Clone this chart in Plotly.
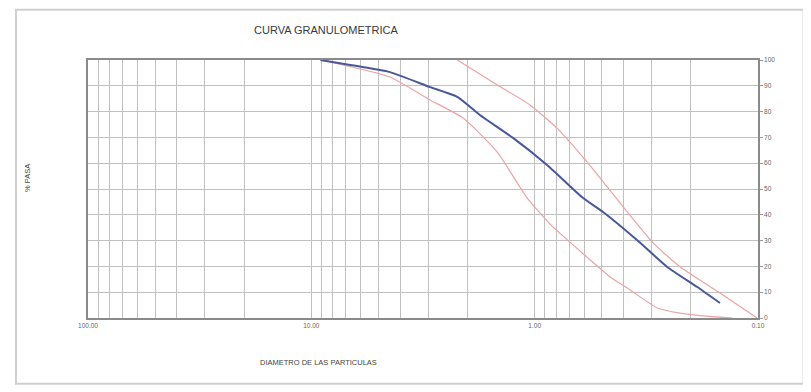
import plotly.graph_objects as go

# ---- data ----
muestra_d = [9.1, 6.7, 4.45, 2.94, 2.22, 1.76, 1.25, 0.88, 0.607, 0.494, 0.348, 0.255, 0.187, 0.148]
muestra_p = [100, 98.1, 95.3, 89.5, 85.7, 78.7, 69.8, 59.3, 46.5, 41.1, 30.2, 19.8, 12.0, 5.8]

lim_sup_d = [2.22, 1.47, 1.05, 0.794, 0.583, 0.415, 0.295, 0.223, 0.148, 0.101]
lim_sup_p = [100, 90.3, 82.6, 73.6, 60.5, 44.6, 29.1, 19.8, 9.7, 0]

lim_inf_d = [9.1, 4.45, 2.94, 2.09, 1.47, 1.08, 0.828, 0.583, 0.459, 0.374, 0.283, 0.223, 0.165, 0.13]
lim_inf_p = [100, 93.4, 84.5, 77.5, 64.3, 46.5, 35.3, 23.6, 15.9, 10.9, 3.9, 1.9, 0.6, 0]

x_tick_labels = {100: "100.00", 10: "10.00", 1: "1.00", 0.1: "0.10"}
y_ticks = [0, 10, 20, 30, 40, 50, 60, 70, 80, 90, 100]

title_text = "CURVA GRANULOMETRICA"
x_title = "DIAMETRO DE LAS PARTICULAS"
y_title = "% PASA"

# gridline positions: every digit in each decade
xv = []
for dec in [0.1, 1, 10]:
    for k in range(1, 10):
        xv.append(round(dec * k, 4))
xv.append(100)
xt = [x_tick_labels.get(v, "") for v in xv]

fig = go.Figure()
fig.add_trace(go.Scatter(x=lim_sup_d, y=lim_sup_p, mode="lines",
                         line=dict(color="#eaa4a4", width=1.2, shape="spline", smoothing=0.5),
                         showlegend=False))
fig.add_trace(go.Scatter(x=lim_inf_d, y=lim_inf_p, mode="lines",
                         line=dict(color="#eaa4a4", width=1.2, shape="spline", smoothing=0.5),
                         showlegend=False))
fig.add_trace(go.Scatter(x=muestra_d, y=muestra_p, mode="lines",
                         line=dict(color="#48589a", width=2, shape="spline", smoothing=0.5),
                         showlegend=False))

font = dict(family="Liberation Sans, Arial", color="#555555")

# page body has an 8px margin, so the figure is shifted; compensate
fig.update_layout(
    width=803, height=384,
    margin=dict(l=80, r=53, t=52, b=74),
    paper_bgcolor="white", plot_bgcolor="white",
    font=font,
    xaxis=dict(type="log", range=[2, -1], tickvals=xv, ticktext=xt,
               showgrid=True, gridcolor="#c0c0c0", gridwidth=1,
               showline=True, linecolor="#8a8a8a", linewidth=1.5, mirror=True,
               ticks="", tickfont=dict(size=6.5, color="#666666"), zeroline=False),
    yaxis=dict(range=[0, 100], tickvals=y_ticks, side="right",
               showgrid=True, gridcolor="#c0c0c0", gridwidth=1,
               showline=True, linecolor="#8a8a8a", linewidth=1.5, mirror=True,
               ticks="outside", ticklen=3, tickcolor="#999999",
               tickfont=dict(size=6.5, color="#666666"), zeroline=False),
    shapes=[dict(type="rect", xref="paper", yref="paper",
                 x0=-0.1075, x1=1.068, y0=-0.255, y1=1.195,
                 line=dict(color="#cfcfcf", width=2))],
    annotations=[
        dict(text=title_text, xref="paper", yref="paper", x=(326 - 88) / 670, y=(318 - 30) / 258,
             xanchor="center", yanchor="middle",
             showarrow=False, font=dict(size=11, color="#3a3a3a", family="Liberation Sans Narrow, Liberation Sans")),
        dict(text=x_title, xref="paper", yref="paper", x=(318 - 88) / 670, y=(318 - 362) / 258,
             xanchor="center", yanchor="middle",
             showarrow=False, font=dict(size=7.5, color="#444444", family="Liberation Sans")),
        dict(text=y_title, xref="paper", yref="paper", x=(27 - 88) / 670, y=(318 - 178) / 258,
             xanchor="center", yanchor="middle",
             showarrow=False, textangle=-90, font=dict(size=7.5, color="#444444", family="Liberation Sans")),
    ],
)

fig.write_html("out.html")
